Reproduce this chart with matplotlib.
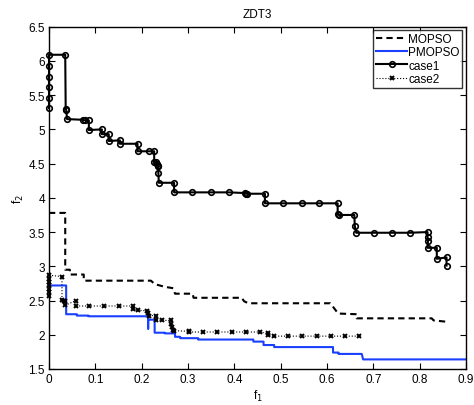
import matplotlib
matplotlib.use("Agg")
import matplotlib.pyplot as plt

plt.rcParams['font.family'] = ['Liberation Sans', 'DejaVu Sans']

# MOPSO (dashed)
mopso_x = [0, 0.035, 0.035, 0.045, 0.045, 0.075, 0.075, 0.22, 0.228, 0.25, 0.268, 0.272,
           0.31, 0.312, 0.416, 0.421, 0.43, 0.607, 0.614, 0.624, 0.664, 0.664, 0.826, 0.83, 0.858]
mopso_y = [3.78, 3.78, 2.95, 2.95, 2.88, 2.88, 2.79, 2.79, 2.74, 2.70, 2.68, 2.60,
           2.60, 2.54, 2.54, 2.49, 2.46, 2.46, 2.40, 2.31, 2.30, 2.24, 2.24, 2.21, 2.19]

# PMOPSO (blue)
pmopso_x = [0, 0, 0.037, 0.037, 0.06, 0.06, 0.085, 0.085, 0.214, 0.214, 0.214, 0.228, 0.228,
            0.25, 0.25, 0.272, 0.272, 0.283, 0.283, 0.322, 0.322, 0.441, 0.441, 0.463, 0.463,
            0.486, 0.486, 0.613, 0.613, 0.625, 0.625, 0.675, 0.678, 0.898]
pmopso_y = [2.35, 2.72, 2.72, 2.30, 2.30, 2.28, 2.28, 2.27, 2.27, 2.09, 2.22, 2.22, 2.03,
            2.03, 2.02, 2.02, 1.97, 1.97, 1.95, 1.95, 1.93, 1.93, 1.90, 1.90, 1.85,
            1.85, 1.82, 1.82, 1.74, 1.74, 1.72, 1.72, 1.64, 1.64]

# case1 (circles)
case1_x = [0, 0, 0, 0, 0, 0, 0.035, 0.036, 0.037, 0.039, 0.074, 0.078, 0.086, 0.086, 0.114,
           0.114, 0.129, 0.129, 0.153, 0.153, 0.191, 0.191, 0.215, 0.227, 0.227, 0.230, 0.233,
           0.235, 0.236, 0.236, 0.237, 0.270, 0.270, 0.309, 0.349, 0.388, 0.423, 0.426, 0.428,
           0.466, 0.466, 0.506, 0.545, 0.583, 0.623, 0.623, 0.625, 0.659, 0.660, 0.663, 0.701,
           0.740, 0.779, 0.817, 0.817, 0.818, 0.817, 0.837, 0.837, 0.858, 0.858]
case1_y = [5.31, 5.46, 5.62, 5.77, 5.93, 6.09, 6.09, 5.30, 5.29, 5.15, 5.14, 5.13, 5.13, 4.99, 5.00,
           4.93, 4.93, 4.83, 4.84, 4.79, 4.79, 4.68, 4.68, 4.68, 4.53, 4.52, 4.50,
           4.47, 4.46, 4.37, 4.22, 4.22, 4.08, 4.08, 4.08, 4.08, 4.07, 4.06, 4.06,
           4.06, 3.92, 3.92, 3.92, 3.92, 3.92, 3.76, 3.75, 3.75, 3.59, 3.49, 3.49,
           3.49, 3.49, 3.50, 3.43, 3.37, 3.27, 3.27, 3.11, 3.13, 3.01]

# case2 (x markers)
case2_x = [0, 0, 0, 0, 0, 0, 0, 0.028, 0.028, 0.032, 0.035, 0.035, 0.058, 0.058, 0.087, 0.119,
           0.150, 0.181, 0.181, 0.191, 0.211, 0.213, 0.215, 0.232, 0.232, 0.243, 0.263, 0.263,
           0.266, 0.268, 0.270, 0.302, 0.302, 0.333, 0.363, 0.394, 0.425, 0.455, 0.472, 0.472,
           0.486, 0.516, 0.547, 0.578, 0.608, 0.639, 0.670]
case2_y = [2.57, 2.62, 2.67, 2.72, 2.77, 2.82, 2.87, 2.85, 2.51, 2.50, 2.50, 2.43, 2.50, 2.42, 2.42, 2.42,
           2.42, 2.42, 2.37, 2.36, 2.35, 2.32, 2.28, 2.28, 2.22, 2.21, 2.21, 2.15,
           2.11, 2.07, 2.06, 2.05, 2.04, 2.04, 2.04, 2.04, 2.04, 2.04, 2.02, 1.99,
           1.98, 1.98, 1.98, 1.98, 1.98, 1.98, 1.98]

fig = plt.figure(figsize=(4.74, 4.06), dpi=100)
ax = fig.add_axes([0.1034, 0.0887, 0.8797, 0.8431])

ax.plot(mopso_x, mopso_y, color='k', linestyle=(0, (3, 2)), linewidth=1.5, label='MOPSO')
ax.plot(pmopso_x, pmopso_y, color=(0.1, 0.25, 1.0), linewidth=1.5, label='PMOPSO')
ax.plot(case1_x, case1_y, color='k', linewidth=1.5, marker='o', markersize=4,
        markerfacecolor='none', markeredgewidth=1.2, label='case1', clip_on=False)
ax.plot(case2_x, case2_y, color='k', linestyle=':', linewidth=0.8, marker='x', markersize=3,
        markeredgewidth=1.4, label='case2', clip_on=False)

ax.set_xlim(0, 0.9)
ax.set_ylim(1.5, 6.5)
ax.set_xticks([0, 0.1, 0.2, 0.3, 0.4, 0.5, 0.6, 0.7, 0.8, 0.9])
ax.set_xticklabels(['0', '0.1', '0.2', '0.3', '0.4', '0.5', '0.6', '0.7', '0.8', '0.9'])
ax.set_yticks([1.5, 2, 2.5, 3, 3.5, 4, 4.5, 5, 5.5, 6, 6.5])
ax.set_yticklabels(['1.5', '2', '2.5', '3', '3.5', '4', '4.5', '5', '5.5', '6', '6.5'])
ax.tick_params(direction='in', top=True, right=True, length=4, labelsize=8.5, pad=3)
for s in ax.spines.values():
    s.set_linewidth(1.0)

ax.set_title('ZDT3', fontsize=8.5, pad=7)
ax.set_xlabel('f$_1$', fontsize=8.5, labelpad=2)
ax.set_ylabel('f$_2$', fontsize=8.5, labelpad=2)

leg = ax.legend(loc='upper right', fontsize=8.5, frameon=True, fancybox=False,
                edgecolor='k', borderaxespad=0.3, handlelength=2.6, handletextpad=0.1,
                borderpad=0.25, labelspacing=0.1)
leg.get_frame().set_linewidth(1.0)

fig.savefig('out.png', dpi=100)
